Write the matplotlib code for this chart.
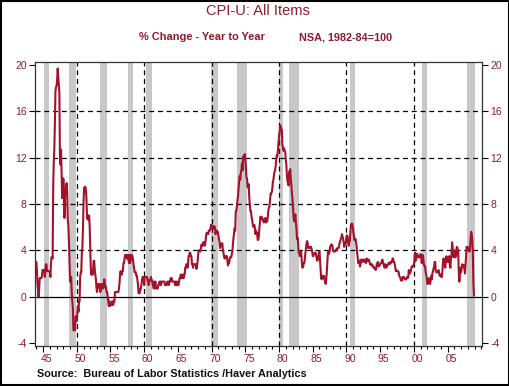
import numpy as np
import pandas as pd
import matplotlib
matplotlib.use("Agg")
import matplotlib.pyplot as plt
import matplotlib.transforms as mtransforms
from matplotlib.patches import Rectangle
from matplotlib.ticker import MultipleLocator

plt.rcParams["font.family"] = ["Liberation Sans", "DejaVu Sans"]

# CPI-U, % change year to year, monthly, Jan 1944 - Dec 2008 (one row per year)
cpi_yoy = [
    3.0, 2.3, 1.2, 0.6, 0.0, 0.6, 1.6, 1.6, 1.6, 1.6, 1.8, 2.3,        # 1944
    2.3, 2.3, 2.3, 1.7, 2.3, 2.8, 2.8, 2.2, 2.2, 2.2, 2.2, 2.2,        # 1945
    2.2, 1.7, 2.8, 3.4, 3.4, 3.3, 9.4, 11.6, 12.7, 14.9, 17.7, 18.1,   # 1946
    18.2, 18.7, 19.7, 19.0, 18.4, 17.6, 12.1, 11.4, 12.7, 10.6, 8.5, 8.8,  # 1947
    10.2, 9.3, 6.8, 8.6, 9.1, 9.5, 9.8, 8.9, 6.6, 6.1, 4.8, 3.0,      # 1948
    1.3, 1.3, 1.7, 0.4, -0.4, -0.9, -2.9, -2.9, -2.4, -2.9, -1.7, -2.1,  # 1949
    -2.1, -1.3, -0.8, -1.3, -0.4, -0.4, 1.7, 2.1, 2.1, 3.8, 4.3, 5.9,  # 1950
    8.1, 9.4, 9.3, 9.5, 9.3, 8.7, 7.3, 6.7, 7.0, 6.6, 7.0, 6.0,       # 1951
    4.3, 2.3, 1.9, 2.3, 1.9, 2.3, 3.1, 3.1, 2.3, 1.9, 1.5, 0.8,       # 1952
    0.4, 0.8, 1.1, 0.8, 1.1, 1.1, 0.4, 0.8, 0.8, 1.1, 0.8, 0.7,       # 1953
    1.1, 1.5, 1.1, 0.8, 0.8, 0.4, 0.4, 0.0, -0.4, -0.8, -0.4, -0.8,   # 1954
    -0.7, -0.7, -0.7, -0.4, -0.7, -0.7, -0.4, -0.4, 0.4, 0.4, 0.4, 0.4,  # 1955
    0.4, 0.4, 0.4, 0.7, 1.1, 1.9, 2.2, 1.9, 1.9, 2.2, 2.2, 2.9,       # 1956
    2.9, 3.3, 3.6, 3.6, 3.6, 3.3, 3.3, 3.6, 3.2, 2.9, 3.6, 2.9,       # 1957
    3.6, 3.2, 3.6, 3.5, 3.2, 2.8, 2.5, 2.1, 2.1, 2.1, 1.8, 1.8,       # 1958
    1.4, 1.0, 0.3, 0.3, 0.3, 0.7, 0.7, 1.0, 1.4, 1.7, 1.7, 1.7,       # 1959
    1.0, 1.7, 1.7, 1.7, 1.7, 1.7, 1.4, 1.4, 1.0, 1.4, 1.4, 1.4,       # 1960
    1.7, 1.4, 1.4, 1.0, 1.0, 0.7, 1.3, 1.0, 1.3, 0.7, 0.7, 0.7,       # 1961
    0.7, 1.0, 1.0, 1.3, 1.3, 1.3, 1.0, 1.3, 1.3, 1.3, 1.3, 1.3,       # 1962
    1.3, 1.0, 1.0, 1.0, 1.0, 1.3, 1.3, 1.3, 1.0, 1.3, 1.3, 1.6,       # 1963
    1.6, 1.6, 1.3, 1.3, 1.3, 1.3, 1.3, 1.0, 1.3, 1.0, 1.3, 1.0,       # 1964
    1.0, 1.0, 1.3, 1.6, 1.6, 1.9, 1.6, 1.9, 1.6, 1.9, 1.6, 1.9,       # 1965
    1.9, 2.5, 2.5, 2.8, 2.8, 2.5, 2.8, 3.5, 3.5, 3.8, 3.8, 3.5,       # 1966
    3.5, 2.8, 2.8, 2.5, 2.8, 2.8, 2.8, 2.8, 2.8, 2.4, 2.7, 3.0,       # 1967
    3.6, 4.0, 4.0, 4.0, 3.9, 4.2, 4.5, 4.4, 4.4, 4.7, 4.7, 4.7,       # 1968
    4.4, 4.7, 5.2, 5.5, 5.5, 5.5, 5.4, 5.7, 5.7, 5.7, 5.9, 6.2,       # 1969
    6.2, 6.1, 5.8, 6.1, 6.1, 6.0, 6.0, 5.4, 5.7, 5.7, 5.6, 5.6,       # 1970
    5.3, 5.0, 4.7, 4.2, 4.4, 4.6, 4.4, 4.6, 4.1, 3.8, 3.5, 3.3,       # 1971
    3.3, 3.5, 3.5, 3.5, 3.2, 2.7, 2.9, 2.9, 3.2, 3.4, 3.4, 3.4,       # 1972
    3.7, 3.9, 4.6, 5.1, 5.5, 5.9, 5.7, 7.4, 7.4, 7.8, 8.3, 8.7,       # 1973
    9.4, 10.0, 10.4, 10.1, 10.7, 10.9, 11.5, 10.9, 12.1, 12.0, 12.2, 12.3,  # 1974
    11.8, 11.2, 10.3, 10.2, 9.5, 9.4, 9.7, 8.6, 7.9, 7.4, 7.4, 6.9,   # 1975
    6.7, 6.3, 6.1, 6.0, 6.2, 5.9, 5.4, 5.7, 5.5, 5.5, 4.9, 4.9,       # 1976
    5.2, 5.9, 6.4, 6.9, 6.7, 6.9, 6.8, 6.6, 6.6, 6.4, 6.7, 6.7,       # 1977
    6.8, 6.4, 6.6, 6.5, 6.9, 7.4, 7.7, 7.8, 8.3, 8.9, 8.9, 9.0,       # 1978
    9.3, 9.9, 10.1, 10.5, 10.8, 10.9, 11.3, 11.8, 12.2, 12.1, 12.6, 13.3,  # 1979
    13.9, 14.2, 14.8, 14.7, 14.4, 14.4, 13.1, 12.9, 12.6, 12.8, 12.6, 12.5,  # 1980
    11.8, 11.4, 10.5, 10.0, 9.8, 9.6, 10.8, 10.8, 11.0, 10.1, 9.6, 8.9,  # 1981
    8.4, 7.6, 6.8, 6.5, 6.7, 7.1, 6.4, 5.9, 5.0, 5.1, 4.6, 3.8,       # 1982
    3.7, 3.5, 3.6, 3.9, 3.5, 2.6, 2.5, 2.6, 2.9, 2.9, 3.3, 3.8,       # 1983
    4.2, 4.6, 4.8, 4.6, 4.2, 4.2, 4.2, 4.3, 4.3, 4.3, 4.1, 3.9,       # 1984
    3.5, 3.5, 3.7, 3.7, 3.8, 3.8, 3.6, 3.3, 3.1, 3.2, 3.5, 3.8,       # 1985
    3.9, 3.1, 2.2, 1.6, 1.5, 1.8, 1.6, 1.6, 1.8, 1.5, 1.3, 1.1,       # 1986
    1.5, 2.1, 3.0, 3.8, 3.9, 3.7, 3.9, 4.3, 4.4, 4.5, 4.5, 4.4,       # 1987
    4.0, 3.9, 3.9, 3.9, 3.9, 4.0, 4.1, 4.0, 4.2, 4.2, 4.2, 4.4,       # 1988
    4.7, 4.8, 5.0, 5.1, 5.4, 5.2, 5.0, 4.7, 4.3, 4.5, 4.7, 4.6,       # 1989
    5.2, 5.3, 5.2, 4.7, 4.4, 4.7, 4.8, 5.6, 6.2, 6.3, 6.3, 6.1,       # 1990
    5.7, 5.3, 4.9, 4.9, 5.0, 4.7, 4.4, 3.8, 3.4, 2.9, 3.0, 3.1,       # 1991
    2.6, 2.8, 3.2, 3.2, 3.0, 3.1, 3.2, 3.1, 3.0, 3.2, 3.0, 2.9,       # 1992
    3.3, 3.2, 3.1, 3.2, 3.2, 3.0, 2.8, 2.8, 2.7, 2.8, 2.7, 2.7,       # 1993
    2.5, 2.5, 2.5, 2.4, 2.3, 2.5, 2.8, 2.9, 3.0, 2.6, 2.7, 2.7,       # 1994
    2.8, 2.9, 2.9, 3.1, 3.2, 3.0, 2.8, 2.6, 2.5, 2.8, 2.6, 2.5,       # 1995
    2.7, 2.7, 2.8, 2.9, 2.9, 2.8, 3.0, 2.9, 3.0, 3.0, 3.3, 3.3,       # 1996
    3.0, 3.0, 2.8, 2.5, 2.2, 2.3, 2.2, 2.2, 2.2, 2.1, 1.8, 1.7,       # 1997
    1.6, 1.4, 1.4, 1.4, 1.7, 1.7, 1.7, 1.6, 1.5, 1.5, 1.5, 1.6,       # 1998
    1.7, 1.6, 1.7, 2.3, 2.1, 2.0, 2.1, 2.3, 2.6, 2.6, 2.6, 2.7,       # 1999
    2.7, 3.2, 3.8, 3.1, 3.2, 3.7, 3.7, 3.4, 3.5, 3.4, 3.4, 3.4,       # 2000
    3.7, 3.5, 2.9, 3.3, 3.6, 3.2, 2.7, 2.7, 2.6, 2.1, 1.9, 1.6,       # 2001
    1.1, 1.1, 1.5, 1.6, 1.2, 1.1, 1.5, 1.8, 1.5, 2.0, 2.2, 2.4,       # 2002
    2.6, 3.0, 3.0, 2.2, 2.1, 2.1, 2.1, 2.2, 2.3, 2.0, 1.8, 1.9,       # 2003
    1.9, 1.7, 1.7, 2.3, 3.1, 3.3, 3.0, 2.7, 2.5, 3.2, 3.5, 3.3,       # 2004
    3.0, 3.0, 3.1, 3.5, 2.8, 2.5, 3.2, 3.6, 4.7, 4.3, 3.5, 3.4,       # 2005
    4.0, 3.6, 3.4, 3.5, 4.2, 4.3, 4.1, 3.8, 2.1, 1.3, 2.0, 2.5,       # 2006
    2.1, 2.4, 2.8, 2.6, 2.7, 2.7, 2.4, 2.0, 2.8, 3.5, 4.3, 4.1,       # 2007
    4.3, 4.0, 4.0, 3.9, 4.2, 5.0, 5.6, 5.4, 4.9, 3.7, 1.1, 0.1,       # 2008
]

# NBER recessions (first month, last month)
recessions = [
    ("1945-02", "1945-10"), ("1948-11", "1949-10"), ("1953-07", "1954-05"),
    ("1957-08", "1958-04"), ("1960-04", "1961-02"), ("1969-12", "1970-11"),
    ("1973-11", "1975-03"), ("1980-01", "1980-07"), ("1981-07", "1982-11"),
    ("1990-07", "1991-03"), ("2001-03", "2001-11"), ("2007-12", "2008-12"),
]

year_ticks = list(range(1945, 2010, 5))
year_labels = ["45", "50", "55", "60", "65", "70", "75", "80", "85", "90", "95", "00", "05"]
decades = [1950, 1960, 1970, 1980, 1990, 2000]
y_ticks = [-4, 0, 4, 8, 12, 16, 20]

RED = "#A3122B"
DARK_RED = "#8E1B2E"


def to_year(stamp):
    ts = pd.Timestamp(stamp)
    return ts.year + (ts.month - 1) / 12


dates = pd.date_range("1944-01-01", periods=len(cpi_yoy), freq="MS")
x = dates.year + (dates.month - 1) / 12

fig = plt.figure(figsize=(5.10, 3.86), dpi=100)
ax = fig.add_axes([0.0686, 0.1036, 0.8764, 0.7358])

for start, end in recessions:
    ax.axvspan(to_year(start), to_year(end) + 1 / 12, color="#C8C8C8", lw=0, zorder=0)

for d in decades:
    ax.axvline(d, color="black", lw=0.9, ls=(0, (4, 3)), zorder=1)
for v in y_ticks[2:-1]:
    ax.axhline(v, color="black", lw=0.9, ls=(0, (4, 3)), zorder=1)
ax.axhline(0, color="black", lw=0.9, zorder=1)

ax.plot(x, cpi_yoy, color=RED, lw=1.5, zorder=3)

ax.set_xlim(1943.8, 2010.1)
ax.set_ylim(-4.26, 20.26)

ax.set_yticks(y_ticks)
ax.set_yticklabels([str(v) for v in y_ticks])
ax.tick_params(axis="y", which="both", direction="out", length=4, width=0.8,
               labelsize=7.5, labelcolor=DARK_RED, left=True, right=True,
               labelleft=True, labelright=True, pad=2)

ax.set_xticks(year_ticks)
ax.set_xticklabels(year_labels)
ax.xaxis.set_minor_locator(MultipleLocator(1))
ax.tick_params(axis="x", which="major", direction="out", length=4, width=0.8,
               labelsize=7.5, labelcolor=DARK_RED, pad=2)
ax.tick_params(axis="x", which="minor", direction="out", length=2.5, width=0.8)

# labels sit in the middle of the year
shift = mtransforms.ScaledTranslation(3.4 / 100, 0, fig.dpi_scale_trans)
for lab in ax.get_xticklabels():
    lab.set_transform(lab.get_transform() + shift)

for s in ax.spines.values():
    s.set_color("#333333")
    s.set_linewidth(0.9)

fig.text(0.505, 0.972, "CPI-U: All Items", ha="center", va="center",
         fontsize=10.5, color=DARK_RED)
fig.text(0.397, 0.904, "% Change - Year to Year", ha="center", va="center",
         fontsize=7.9, fontweight="bold", color=DARK_RED)
fig.text(0.677, 0.904, "NSA, 1982-84=100", ha="center", va="center",
         fontsize=7.8, fontweight="bold", color=DARK_RED)
fig.text(0.072, 0.031, "Source:  Bureau of Labor Statistics /Haver Analytics",
         ha="left", va="center", fontsize=7.8, fontweight="bold", color="#111111")

fig.patches.append(Rectangle((0.001, 0.002), 0.997, 0.996, transform=fig.transFigure,
                             fill=False, edgecolor="black", lw=1.5))

fig.savefig("out.png", dpi=100)
